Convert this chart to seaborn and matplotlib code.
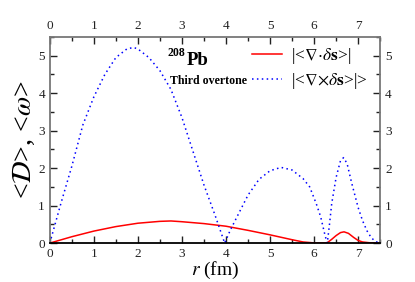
import numpy as np
import pandas as pd
import matplotlib
matplotlib.use('Agg')
import matplotlib.pyplot as plt
import seaborn as sns
from matplotlib.ticker import MultipleLocator

# curl curve |<nabla x ds>| (blue dotted)
r_curl = [0.0, 0.25, 0.5, 0.75, 1.0, 1.25, 1.5, 1.75, 1.9, 2.0, 2.25, 2.5, 2.75,
          3.0, 3.25, 3.5, 3.75, 3.97, 4.1, 4.25, 4.5, 4.75, 5.0, 5.25, 5.5, 5.75,
          5.9, 6.05, 6.15, 6.25, 6.3, 6.35, 6.4, 6.5, 6.6, 6.67, 6.75, 6.85,
          7.0, 7.1, 7.2, 7.3, 7.4, 7.5]
curl = [0.0, 1.05, 2.05, 3.15, 3.9, 4.5, 4.95, 5.18, 5.22, 5.18, 4.95, 4.6, 4.1,
        3.35, 2.45, 1.55, 0.75, 0.0, 0.35, 0.7, 1.28, 1.7, 1.93, 2.02, 1.95, 1.72,
        1.5, 1.05, 0.7, 0.2, 0.0, 0.5, 1.05, 1.75, 2.2, 2.28, 2.12, 1.62,
        0.95, 0.6, 0.33, 0.14, 0.04, 0.0]

# divergence curve |<nabla . ds>| (red solid)
r_div = [0.0, 0.5, 1.0, 1.5, 2.0, 2.5, 2.75, 3.0, 3.5, 4.0, 4.5, 5.0, 5.5,
         5.75, 6.0, 6.2, 6.3, 6.4, 6.5, 6.6, 6.68, 6.78, 6.9, 7.0, 7.1, 7.25, 7.5]
div = [0.0, 0.17, 0.32, 0.44, 0.53, 0.58, 0.59, 0.57, 0.52, 0.45, 0.34, 0.22, 0.09,
       0.03, 0.005, 0.003, 0.01, 0.1, 0.2, 0.28, 0.3, 0.26, 0.15, 0.07, 0.03, 0.01, 0.0]

plt.rcParams['font.family'] = ['Liberation Serif', 'DejaVu Serif']
plt.rcParams['mathtext.fontset'] = 'stix'

fig = plt.figure(figsize=(4.15, 2.82), dpi=100)
ax = fig.add_axes([0.12, 0.138, 0.796, 0.731])

sns.lineplot(x=r_div, y=div, ax=ax, color='red', linewidth=1.1,
             label=r'|<$\nabla\!\cdot\!\delta\mathbf{s}$>|')
sns.lineplot(x=r_curl, y=curl, ax=ax, color='blue', linewidth=1.1, linestyle=(0, (1, 2.2)),
             label=r'|<$\nabla\!\times\!\delta\mathbf{s}$>|>')

ax.set_xlim(0, 7.5)
ax.set_ylim(0, 5.5)
ax.xaxis.set_major_locator(MultipleLocator(1))
ax.xaxis.set_minor_locator(MultipleLocator(0.5))
ax.yaxis.set_major_locator(MultipleLocator(1))
ax.yaxis.set_minor_locator(MultipleLocator(0.5))
ax.tick_params(which='both', direction='in', top=True, right=True,
               labeltop=True, labelright=True, labelsize=9.5, colors='#222222')
ax.tick_params(which='major', length=5, width=1)
ax.tick_params(which='minor', length=3, width=1)
for s in ['left', 'right', 'top']:
    ax.spines[s].set_color('#777777')
    ax.spines[s].set_linewidth(1.3)
ax.spines['bottom'].set_color('black')
ax.spines['bottom'].set_linewidth(1.3)

ax.set_xlabel(r'$r$ (fm)', fontsize=14, labelpad=0)
ax.set_ylabel(r'<$\mathcal{D}$>, <$\omega$>', fontsize=20, labelpad=1)

ax.text(2.68, 4.98, '208', fontsize=8.5, fontweight='bold')
ax.text(3.1, 4.76, 'Pb', fontsize=13.5, fontweight='bold')
ax.text(2.73, 4.25, 'Third overtone', fontsize=8.6, fontweight='bold')

ax.legend(loc='upper right', frameon=False, fontsize=12.5, handlelength=1.7,
          borderpad=0, borderaxespad=0, labelspacing=0.3, handletextpad=0.5,
          bbox_to_anchor=(0.962, 0.955))

fig.savefig('out.png', dpi=100)
